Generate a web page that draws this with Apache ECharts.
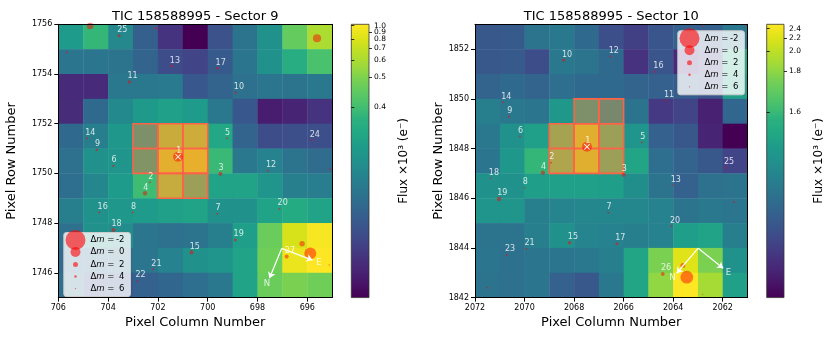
<!DOCTYPE html>
<html>
<head>
<meta charset="utf-8">
<script src="https://cdn.jsdelivr.net/npm/echarts@6/dist/echarts.min.js"></script>
<style>
html, body { margin: 0; padding: 0; background: #fff; }
#chart { width: 830px; height: 346px; }
</style>
</head>
<body>
<div id="chart"></div>
<script>
// ---- Sector 9 ----
// left edge of each pixel column, bottom edge of each pixel row (top row first)
const s9Cols = [705, 704, 703, 702, 701, 700, 699, 698, 697, 696, 695];
const s9Rows = [1755, 1754, 1753, 1752, 1751, 1750, 1749, 1748, 1747, 1746, 1745];
// flux x10^3 e-
const s9Flux = [
  [0.345, 0.386, 0.331, 0.319, 0.3153, 0.3140, 0.3173, 0.3231, 0.3357, 0.449, 0.602],
  [0.3238, 0.3238, 0.3231, 0.3198, 0.3168, 0.3161, 0.3182, 0.3238, 0.3357, 0.3683, 0.409],
  [0.3149, 0.3149, 0.3245, 0.3245, 0.3253, 0.3179, 0.3198, 0.3224, 0.3238, 0.3231, 0.3245],
  [0.3150, 0.3207, 0.3315, 0.3429, 0.3497, 0.3450, 0.3245, 0.3179, 0.3145, 0.3147, 0.3153],
  [0.3207, 0.3271, 0.3409, 0.3723, 0.583, 0.602, 0.358, 0.3198, 0.3168, 0.3170, 0.3170],
  [0.3224, 0.3357, 0.339, 0.381, 0.751, 0.782, 0.391, 0.3245, 0.3281, 0.3231, 0.3212],
  [0.3218, 0.3303, 0.345, 0.396, 0.565, 0.431, 0.352, 0.352, 0.339, 0.3271, 0.3262],
  [0.3271, 0.3357, 0.3409, 0.345, 0.3497, 0.352, 0.3357, 0.3357, 0.352, 0.3646, 0.352],
  [0.3224, 0.3357, 0.3328, 0.3238, 0.3224, 0.3231, 0.3271, 0.3473, 0.458, 0.782, 0.975],
  [0.3212, 0.3212, 0.3224, 0.3238, 0.3281, 0.3357, 0.339, 0.352, 0.469, 0.890, 1.022],
  [0.3224, 0.3168, 0.3179, 0.3193, 0.3202, 0.3218, 0.3245, 0.352, 0.458, 0.491, 0.469]
];
const s9Range = [0.314, 1.023];
const s9BarTicks = [0.4, 0.5, 0.6, 0.7, 0.8, 0.9, 1.0];
const s9XTicks = [696, 698, 700, 702, 704, 706];
const s9YTicks = [1746, 1748, 1750, 1752, 1754, 1756];
const s9Aperture = [[702, 1751], [701, 1751], [700, 1751], [702, 1750], [701, 1750], [700, 1750], [701, 1749], [700, 1749]];
const s9StarId = ['1', '', '25', '23', '', '', '13', '17', '11', '10', '14', '9', '5', '24', '6', '12', '', '3', '2', '4', '16', '8', '7', '20', '18', '19', '15', '', '27', '', '', '21', '22'];
const s9StarX = [701.19, 704.72, 703.56, 702.08, 695.61, 705.65, 701.45, 699.61, 703.15, 698.88, 704.85, 704.45, 699.23, 695.83, 703.79, 697.59, 695.08, 699.49, 702.32, 702.52, 704.35, 703.01, 699.61, 697.12, 703.79, 698.89, 700.65, 696.21, 696.83, 695.88, 695.12, 702.19, 702.83];
const s9StarY = [1750.67, 1755.93, 1755.54, 1755.84, 1755.44, 1754.86, 1754.32, 1754.23, 1753.68, 1753.25, 1751.41, 1750.94, 1751.41, 1751.34, 1750.30, 1750.11, 1750.18, 1749.98, 1749.64, 1749.20, 1748.43, 1748.43, 1748.37, 1748.57, 1747.72, 1747.32, 1746.82, 1747.17, 1746.65, 1746.78, 1746.31, 1746.14, 1745.67];
const s9StarDm = [0, 1.2, 3.5, 4, 0.6, 4.6, 4, 4, 3.2, 4.3, 4.3, 4, 4.6, 4.6, 4.3, 4.6, 4.6, 2.6, 4.6, 2.4, 4.6, 4.6, 4.6, 4.6, 2.6, 3.5, 2.6, 1.8, 2.6, -0.5, 5.5, 4.6, 5];
const s9Compass = [[697.03, 1746.98], [697.52, 1745.78], [695.79, 1746.51]];
const s9CompassText = [[697.62, 1745.55, 'N'], [695.53, 1746.39, 'E']];

// ---- Sector 10 ----
const s10Cols = [2071, 2070, 2069, 2068, 2067, 2066, 2065, 2064, 2063, 2062, 2061];
const s10Rows = [1852, 1851, 1850, 1849, 1848, 1847, 1846, 1845, 1844, 1843, 1842];
const s10Flux = [
  [1.4966, 1.4970, 1.5040, 1.5060, 1.5006, 1.4953, 1.4937, 1.4961, 1.4986, 1.4980, 1.5060],
  [1.4966, 1.4970, 1.4950, 1.5060, 1.5040, 1.5006, 1.4928, 1.4961, 1.4923, 1.4940, 1.5635],
  [1.4992, 1.5006, 1.4992, 1.5022, 1.5006, 1.5006, 1.4992, 1.4986, 1.4975, 1.4957, 1.5421],
  [1.5098, 1.5060, 1.5050, 1.5295, 1.5744, 1.5421, 1.5040, 1.4932, 1.4940, 1.4919, 1.4999],
  [1.5060, 1.5221, 1.5421, 1.697, 2.074, 1.6585, 1.5268, 1.4986, 1.4966, 1.4920, 1.4910],
  [1.5050, 1.5295, 1.5935, 1.745, 2.074, 1.6585, 1.5498, 1.5022, 1.4992, 1.4966, 1.4940],
  [1.5221, 1.5221, 1.5386, 1.5421, 1.5421, 1.5386, 1.5199, 1.5040, 1.4986, 1.5031, 1.5040],
  [1.5268, 1.5268, 1.5098, 1.5127, 1.5143, 1.5143, 1.5143, 1.5112, 1.5040, 1.5060, 1.5050],
  [1.5040, 1.5040, 1.5098, 1.5221, 1.5127, 1.5112, 1.5098, 1.5112, 1.5386, 1.5458, 1.5098],
  [1.5050, 1.5031, 1.5050, 1.5050, 1.5060, 1.5098, 1.5498, 1.745, 2.209, 1.745, 1.5221],
  [1.5040, 1.5031, 1.5050, 1.4986, 1.4966, 1.5060, 1.5498, 1.804, 2.505, 1.876, 1.5421]
];
const s10Range = [1.491, 2.506];
const s10BarTicks = [1.6, 1.8, 2.0, 2.2, 2.4];
const s10XTicks = [2062, 2064, 2066, 2068, 2070, 2072];
const s10YTicks = [1842, 1844, 1846, 1848, 1850, 1852];
const s10Aperture = [[2067, 1849], [2066, 1849], [2068, 1848], [2067, 1848], [2066, 1848], [2068, 1847], [2067, 1847], [2066, 1847]];
const s10StarId = ['1', '10', '12', '16', '14', '11', '9', '6', '5', '2', '25', '', '', '4', '3', '18', '13', '8', '19', '', '7', '20', '15', '17', '21', '23', '26', '', '', '', ''];
const s10StarX = [2067.48, 2068.42, 2066.53, 2064.73, 2070.87, 2064.30, 2070.63, 2070.19, 2065.26, 2068.93, 2061.88, 2062.82, 2061.07, 2069.26, 2066.0, 2071.37, 2064.03, 2070.0, 2071.03, 2061.54, 2066.62, 2064.06, 2068.18, 2066.27, 2069.93, 2070.72, 2064.42, 2063.61, 2063.45, 2071.50, 2062.81];
const s10StarY = [1848.07, 1851.56, 1851.70, 1851.09, 1849.86, 1849.93, 1849.28, 1848.48, 1848.24, 1847.43, 1847.23, 1852.93, 1852.93, 1847.03, 1846.94, 1846.80, 1846.53, 1846.43, 1845.97, 1845.86, 1845.42, 1844.88, 1844.21, 1844.17, 1843.97, 1843.72, 1842.95, 1843.29, 1842.82, 1842.40, 1842.13];
const s10StarDm = [0, 3.2, 4.6, 4.6, 4.6, 4.6, 4.3, 4.6, 4.6, 4.6, 4.6, 5.5, 5.5, 2.4, 2.6, 5, 5, 5, 2.4, 4.6, 4.6, 4.6, 3, 3.5, 4.6, 4.6, 2.8, 2, -0.7, 5, 5.5];
const s10Compass = [[2062.99, 1843.99], [2063.86, 1842.98], [2061.98, 1843.18]];
const s10CompassText = [[2064.03, 1842.78, 'N'], [2061.77, 1842.98, 'E']];

const legendDm = [-2, 0, 2, 4, 6];

const FONT = 'DejaVu Sans';
const STAR = 'rgba(255,0,0,0.6)';
const viridis = ['#440154', '#471365', '#482475', '#46337f', '#414487', '#3b528b', '#355f8d',
  '#2f6c8e', '#2a788e', '#25848e', '#21918c', '#1e9b8a', '#22a884', '#2ab07f', '#44bf70',
  '#5ec962', '#7ad151', '#a0da39', '#bddf26', '#dfe318', '#fde725'];

// log stretch used by the colour scale
function stretch(v, r) {
  const x = Math.max(0, (v - r[0]) / (r[1] - r[0]));
  return Math.log10(1000 * x + 1) / 3;
}
// marker diameter in px from magnitude difference
function starSize(dm) {
  return 20 * Math.pow(2, -(dm + 2) / 2);
}

function heatData(cols, rows, flux, range) {
  const out = [];
  rows.forEach((r, i) => cols.forEach((c, j) => {
    out.push([c, r, flux[i][j], stretch(flux[i][j], range)]);
  }));
  return out;
}

function cellShape(api) {
  const x = api.value(0), y = api.value(1);
  const a = api.coord([x, y]), b = api.coord([x + 1, y + 1]);
  return {
    x: Math.min(a[0], b[0]), y: Math.min(a[1], b[1]),
    width: Math.abs(b[0] - a[0]), height: Math.abs(b[1] - a[1])
  };
}

function heatSeries(idx, cols, rows, flux, range) {
  return {
    type: 'custom', xAxisIndex: idx, yAxisIndex: idx, z: 1,
    data: heatData(cols, rows, flux, range),
    renderItem: (params, api) => {
      const s = cellShape(api);
      s.width += 0.4; s.height += 0.4;
      return { type: 'rect', shape: s, style: { fill: api.visual('color') } };
    }
  };
}

function apertureSeries(idx, cells) {
  return {
    type: 'custom', xAxisIndex: idx, yAxisIndex: idx, z: 2,
    data: cells,
    renderItem: (params, api) => ({
      type: 'rect', shape: cellShape(api),
      style: { fill: 'rgba(255,99,71,0.4)', stroke: '#ff6347', lineWidth: 1.6 }
    })
  };
}

function starSeries(idx, ids, xs, ys, dms) {
  return {
    type: 'scatter', xAxisIndex: idx, yAxisIndex: idx, z: 3, clip: true,
    data: ids.map((id, i) => ({ name: id, value: [xs[i], ys[i], dms[i]] })),
    symbolSize: (val) => starSize(val[2]),
    itemStyle: { color: STAR },
    label: {
      show: true, position: 'inside', align: 'left', verticalAlign: 'middle',
      offset: [-1.8, -5.6], color: '#fff', fontSize: 8, fontFamily: FONT,
      formatter: (p) => p.name
    }
  };
}

function targetSeries(idx, x, y) {
  return {
    type: 'scatter', xAxisIndex: idx, yAxisIndex: idx, z: 4,
    data: [[x, y]],
    symbol: 'path://M1,0L5,4L9,0L10,1L6,5L10,9L9,10L5,6L1,10L0,9L4,5L0,1Z',
    symbolSize: 6,
    itemStyle: { color: '#fff', opacity: 1 }
  };
}

function compassSeries(idx, c, texts) {
  return [{
    type: 'lines', coordinateSystem: 'cartesian2d', xAxisIndex: idx, yAxisIndex: idx, z: 4,
    data: [{ coords: [c[0], c[1]] }, { coords: [c[0], c[2]] }],
    symbol: ['none', 'arrow'], symbolSize: 6,
    lineStyle: { color: '#fff', width: 1.2, opacity: 1, curveness: 0 }
  }, {
    type: 'scatter', xAxisIndex: idx, yAxisIndex: idx, z: 4,
    data: texts.map(t => ({ name: t[2], value: [t[0], t[1]] })),
    symbolSize: 0,
    label: {
      show: true, position: 'inside', color: '#fff', fontSize: 8.5, fontFamily: FONT,
      formatter: (p) => p.name
    }
  }];
}

function barSeries(idx) {
  return {
    type: 'custom', xAxisIndex: idx, yAxisIndex: idx, z: 1,
    data: [[0, 0]],
    renderItem: (params, api) => {
      const a = api.coord([0, 0]), b = api.coord([1, 1]);
      return {
        type: 'rect',
        shape: { x: a[0], y: b[1], width: b[0] - a[0], height: a[1] - b[1] },
        style: {
          fill: new echarts.graphic.LinearGradient(0, 1, 0, 0,
            viridis.map((c, i) => ({ offset: i / (viridis.length - 1), color: c }))),
          stroke: '#333', lineWidth: 0.8
        }
      };
    }
  };
}

const black = { color: '#000', width: 1 };
const tickLab = { fontSize: 8, color: '#000', fontFamily: FONT, formatter: (v) => String(v) };
const nameStyle = { fontSize: 13, color: '#000', fontFamily: FONT };

function mainAxes(grid, xr, yr, xTicks, yTicks, title, yGap) {
  const x = {
    type: 'value', gridIndex: grid, min: xr[0], max: xr[1], inverse: true, z: 10,
    name: 'Pixel Column Number', nameLocation: 'middle', nameGap: 15, nameTextStyle: nameStyle,
    axisLine: { show: true, onZero: false, lineStyle: black },
    axisTick: { show: true, length: 4, customValues: xTicks, lineStyle: black },
    axisLabel: { show: true, customValues: xTicks, margin: 6, ...tickLab },
    splitLine: { show: false }
  };
  const y = {
    type: 'value', gridIndex: grid, min: yr[0], max: yr[1], z: 10,
    name: 'Pixel Row Number', nameLocation: 'middle', nameGap: yGap, nameRotate: 90, nameTextStyle: nameStyle,
    axisLine: { show: true, onZero: false, lineStyle: black },
    axisTick: { show: true, length: 4, customValues: yTicks, lineStyle: black },
    axisLabel: { show: true, customValues: yTicks, margin: 6, ...tickLab },
    splitLine: { show: false }
  };
  const xTop = {
    type: 'value', gridIndex: grid, position: 'top', min: xr[0], max: xr[1], inverse: true, z: 10,
    name: title, nameLocation: 'middle', nameGap: 1, nameTextStyle: nameStyle,
    axisLine: { show: true, onZero: false, lineStyle: black },
    axisTick: { show: false }, axisLabel: { show: false }, splitLine: { show: false }
  };
  const yRight = {
    type: 'value', gridIndex: grid, position: 'right', min: yr[0], max: yr[1], z: 10,
    axisLine: { show: true, onZero: false, lineStyle: black },
    axisTick: { show: false }, axisLabel: { show: false }, splitLine: { show: false }
  };
  return { x, y, xTop, yRight };
}

// colour bar: ticks split over two stacked right-hand axes so close labels are not dropped
function barAxis(grid, range, ticks, withName) {
  const pos = ticks.map(t => stretch(t, range));
  return {
    type: 'value', gridIndex: grid, min: 0, max: 1, position: 'right', offset: 0, z: 10,
    name: withName ? 'Flux ×10³ (e⁻)' : '', nameLocation: 'middle', nameRotate: 90, nameGap: 29,
    nameTextStyle: { fontSize: 12, color: '#000', fontFamily: FONT },
    axisLine: { show: false },
    axisTick: { show: true, length: 3, customValues: pos, lineStyle: { color: '#000', width: 0.8 } },
    axisLabel: {
      show: true, customValues: pos, margin: 5, fontSize: 7.5, color: '#000', fontFamily: FONT,
      hideOverlap: false,
      formatter: (v) => {
        let best = 0;
        pos.forEach((p, i) => { if (Math.abs(p - v) < Math.abs(pos[best] - v)) best = i; });
        return ticks[best].toFixed(1);
      }
    },
    splitLine: { show: false }
  };
}
function barAxes(grid, range, ticks) {
  const even = ticks.filter((t, i) => i % 2 === 0);
  const odd = ticks.filter((t, i) => i % 2 === 1);
  return {
    x: { type: 'value', gridIndex: grid, min: 0, max: 1, show: false },
    y: barAxis(grid, range, even, true),
    y2: barAxis(grid, range, odd, false)
  };
}

function legendGraphic(left, top) {
  const rowY = [7.5, 19.5, 32, 44, 56];
  const Z = 30;
  const children = [{
    type: 'rect', z: Z, shape: { x: 0, y: 0, width: 66.7, height: 64, r: 2.5 },
    style: { fill: 'rgba(255,255,255,0.8)', stroke: '#cccccc', lineWidth: 1 }
  }];
  legendDm.forEach((dm, i) => {
    children.push({
      type: 'circle', z: Z + 1, shape: { cx: 11.7, cy: rowY[i], r: starSize(dm) / 2 },
      style: { fill: STAR }
    });
    children.push({
      type: 'text', z: Z + 1, x: 26.7, y: rowY[i],
      style: {
        text: 'Δ{i|m} =', fill: '#000', fontSize: 8.5, fontFamily: FONT, verticalAlign: 'middle',
        rich: { i: { fontStyle: 'italic', fontSize: 8.5, fontFamily: FONT } }
      }
    });
    children.push({
      type: 'text', z: Z + 1, x: 60.7, y: rowY[i],
      style: { text: String(dm), fill: '#000', fontSize: 8.5, fontFamily: FONT, align: 'right', verticalAlign: 'middle' }
    });
  });
  return { type: 'group', left: left, top: top, z: Z, children: children };
}

const a9 = mainAxes(0, [695, 706], [1745, 1756], s9XTicks, s9YTicks, 'TIC 158588995 - Sector 9', 40);
const a10 = mainAxes(2, [2061, 2072], [1842, 1853], s10XTicks, s10YTicks, 'TIC 158588995 - Sector 10', 30);
const b9 = barAxes(1, s9Range, s9BarTicks);
const b10 = barAxes(3, s10Range, s10BarTicks);

const chart = echarts.init(document.getElementById('chart'), null, { renderer: 'canvas' });
chart.setOption({
  animation: false,
  backgroundColor: '#fff',
  textStyle: { fontFamily: FONT },
  grid: [
    { left: 58.3, top: 24.3, width: 273.9, height: 273.3, outerBoundsMode: 'none', containLabel: false },
    { left: 351.3, top: 24.3, width: 17.7, height: 273.3, outerBoundsMode: 'none', containLabel: false },
    { left: 475, top: 24.3, width: 272.5, height: 273.3, outerBoundsMode: 'none', containLabel: false },
    { left: 766.7, top: 24.3, width: 17.3, height: 273.3, outerBoundsMode: 'none', containLabel: false }
  ],
  xAxis: [a9.x, b9.x, a10.x, b10.x, a9.xTop, a10.xTop],
  yAxis: [a9.y, b9.y, a10.y, b10.y, a9.yRight, a10.yRight, b9.y2, b10.y2],
  visualMap: [
    { type: 'continuous', show: false, seriesIndex: 0, dimension: 3, min: 0, max: 1, inRange: { color: viridis } },
    { type: 'continuous', show: false, seriesIndex: 7, dimension: 3, min: 0, max: 1, inRange: { color: viridis } }
  ],
  series: [
    heatSeries(0, s9Cols, s9Rows, s9Flux, s9Range),
    apertureSeries(0, s9Aperture),
    starSeries(0, s9StarId, s9StarX, s9StarY, s9StarDm),
    targetSeries(0, s9StarX[0], s9StarY[0]),
    ...compassSeries(0, s9Compass, s9CompassText),
    barSeries(1),
    heatSeries(2, s10Cols, s10Rows, s10Flux, s10Range),
    apertureSeries(2, s10Aperture),
    starSeries(2, s10StarId, s10StarX, s10StarY, s10StarDm),
    targetSeries(2, s10StarX[0], s10StarY[0]),
    ...compassSeries(2, s10Compass, s10CompassText),
    barSeries(3)
  ],
  graphic: { elements: [legendGraphic(63.3, 230), legendGraphic(677.3, 28.3)] }
});
</script>
</body>
</html>
